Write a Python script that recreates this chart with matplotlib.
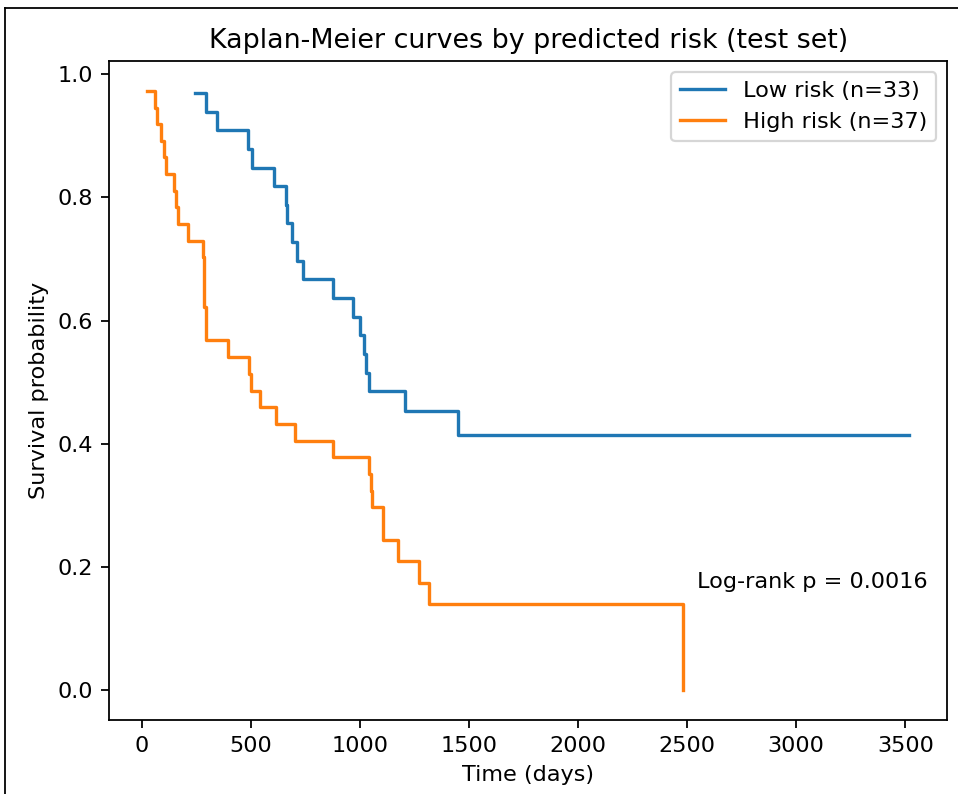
import matplotlib
matplotlib.use("Agg")
import matplotlib.pyplot as plt
from matplotlib.lines import Line2D

# --------------------------
# Kaplan-Meier step data
# --------------------------
low_t = [243, 296, 345, 486, 506, 605, 661, 666, 689, 712, 739, 879, 968,
         1002, 1021, 1028, 1040, 1208, 1449, 3518]
low_s = [0.970, 0.939, 0.909, 0.879, 0.848, 0.818, 0.788, 0.758, 0.727, 0.697,
         0.667, 0.636, 0.606, 0.576, 0.545, 0.515, 0.485, 0.453, 0.415, 0.415]

high_t = [25, 60, 70, 89, 104, 113, 147, 157, 165, 212, 279, 284, 294, 396,
          493, 501, 544, 615, 701, 877, 1044, 1051, 1055, 1104, 1108, 1174,
          1273, 1319, 2480]
high_s = [0.973, 0.946, 0.919, 0.892, 0.865, 0.838, 0.811, 0.784, 0.757, 0.730,
          0.703, 0.622, 0.568, 0.541, 0.514, 0.486, 0.459, 0.432, 0.405, 0.378,
          0.351, 0.324, 0.297, 0.270, 0.243, 0.209, 0.174, 0.139, 0.0]

n_low = 33
n_high = 37
p_value = 0.0016

# --------------------------
# Figure (original was rendered a bit larger than 150 dpi)
# --------------------------
W, H, DPI = 958, 794, 161
fig = plt.figure(figsize=(W / DPI, H / DPI), dpi=DPI)
ax = fig.add_axes([109 / W, 1 - 720 / H, (947.3 - 109) / W, (720 - 61) / H])

ax.step(low_t, low_s, where="post", label=f"Low risk (n={n_low})")
ax.step(high_t, high_s, where="post", label=f"High risk (n={n_high})")

ax.set_title("Kaplan-Meier curves by predicted risk (test set)")
ax.set_xlabel("Time (days)")
ax.set_ylabel("Survival probability")
ax.set_xticks(range(0, 3501, 500))
ax.legend(loc="upper right")
ax.text(0.702, 0.2, f"Log-rank p = {p_value:.4f}", transform=ax.transAxes)

# frame lines of the original screenshot
fig.add_artist(Line2D([5 / W, 5 / W], [0, 1 - 8 / H], transform=fig.transFigure,
                      color="black", lw=0.8))
fig.add_artist(Line2D([5 / W, 1], [1 - 8 / H, 1 - 8 / H], transform=fig.transFigure,
                      color="black", lw=0.8))

fig.savefig("out.png", dpi=DPI)
